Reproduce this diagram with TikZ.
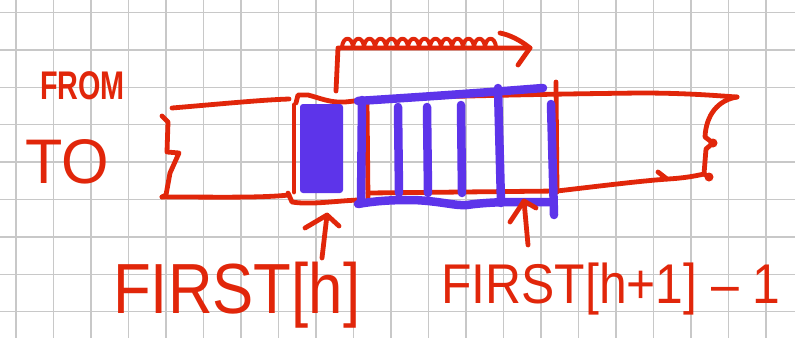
\documentclass[tikz,border=0pt]{standalone}
\usepackage{fontspec}
\setmainfont{Liberation Sans}
\definecolor{gridgray}{RGB}{200,200,200}
\definecolor{markred}{RGB}{225,38,10}
\definecolor{markviolet}{RGB}{93,52,234}
\begin{document}
\begin{tikzpicture}[x=1pt,y=-1pt,
  gridline/.style={draw=gridgray,line width=1.3pt},
  redpen/.style={draw=markred,line width=4.8pt,line cap=round,line join=round},
  violetpen/.style={draw=markviolet,line width=8.5pt,line cap=round,line join=round},
  handtext/.style={text=markred,inner sep=0pt,anchor=base west}]

\useasboundingbox (0,0) rectangle (795,338);
\fill[white] (0,0) rectangle (795,338);

% squared paper
\foreach \k in {0,...,20} \draw[gridline] ({16+37.5*\k},0) -- ({16+37.5*\k},338);
\foreach \k in {0,...,8} \draw[gridline] (0,{12.5+37.4*\k}) -- (795,{12.5+37.4*\k});

% labels
\node[handtext,font=\fontsize{40}{40}\selectfont\bfseries,xscale=0.72] (from) at (40,99) {FROM};
\node[handtext,font=\fontsize{63}{63}\selectfont,xscale=0.97] (to) at (25,183) {TO};
\node[handtext,font=\fontsize{71}{71}\selectfont,xscale=0.87] (firsth) at (113,313) {FIRST[h]};
\node[handtext,font=\fontsize{56}{56}\selectfont,xscale=0.89] (firstnext) at (441,303) {FIRST[h+1] – 1};

% left part of the array with its brace
\draw[redpen] (172,108) .. controls (220,104) and (260,100) .. (289,99);
\draw[redpen] (162,116) -- (168,122) -- (167,152) -- (179,153) -- (170,173) -- (166,195) -- (162,197);
\draw[redpen] (162,197) .. controls (220,197) and (260,198) .. (289,195);

% cell h
\draw[redpen] (294,105) -- (294,192);
\draw[redpen] (296,103) -- (298,95) -- (308,95) .. controls (320,98) and (330,103) .. (345,102) .. controls (355,101) and (362,100) .. (370,99);
\draw[redpen] (288,193) -- (292,202) .. controls (310,205) and (335,201) .. (358,200);

% red outline under the bucket and the right part
\draw[redpen] (370,99) .. controls (450,96) and (550,94) .. (640,93) .. controls (690,93) and (720,96) .. (737,97);
\draw[redpen] (367,102) -- (368,200);
\draw[redpen] (556,82) -- (557,192);
\draw[redpen] (368,193) -- (557,191) .. controls (600,186) and (640,181) .. (668,179) .. controls (685,178) and (695,176) .. (704,174);
\draw[redpen] (658,172) -- (667,179);
\draw[redpen] (737,97) .. controls (718,100) and (706,115) .. (705,137) -- (713,143) -- (706,149) -- (704,174) -- (709,177);
\fill[markred] (713,143) circle (4.5);
\fill[markred] (709,177) circle (4.5);

% scan bracket above the bucket
\draw[redpen] (336,91) -- (338,48) -- (530,48);
\draw[redpen,line width=4pt] (342,47) foreach \i in {0,...,13} { .. controls +(1,-11) and +(-1,-11) .. ++(11,0) };
\draw[redpen] (500,33) .. controls (510,35) and (520,40) .. (530,48) -- (518,65);

% filled cell h
\fill[markviolet,rounded corners=3pt] (300,104) rectangle (343,193);

% bucket of cells h .. h+1-1
\draw[violetpen] (358,101) .. controls (420,97) and (480,93) .. (543,88);
\draw[violetpen] (362,100) -- (361,203);
\draw[violetpen] (358,204) .. controls (380,200) and (400,200) .. (413,200) .. controls (440,201) and (455,206) .. (467,205) .. controls (480,203) and (500,202) .. (513,202) -- (550,202);
\draw[violetpen] (551,104) -- (554,215);
\draw[violetpen] (398,107) -- (399,193);
\draw[violetpen] (427,107) -- (428,193);
\draw[violetpen] (461,105) -- (462,193);
\draw[violetpen] (498,88) -- (501,203);

% pointers from the labels
\coordinate (tailA) at (322,258);
\coordinate (tipA) at (327,215);
\coordinate (tailB) at (528,245);
\coordinate (tipB) at (524,201);
\draw[redpen] (tailA) -- (tipA);
\draw[redpen] (305,228) -- (tipA) -- (339,226);
\draw[redpen] (tailB) -- (tipB);
\draw[redpen] (510,222) -- (tipB) -- (536,208);
\end{tikzpicture}
\end{document}
